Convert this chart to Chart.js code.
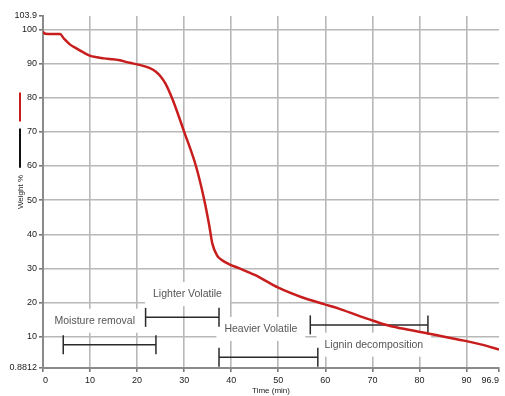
<!DOCTYPE html>
<html><head><meta charset="utf-8">
<script src="https://cdn.jsdelivr.net/npm/chart.js@4.4.1/dist/chart.umd.min.js"></script>
<style>html,body{margin:0;padding:0;background:#fff;overflow:hidden}#wrap{width:505px;height:396px;position:relative}</style>
</head><body><div id="wrap"><canvas id="c"></canvas></div>
<script>
// ---- data ----
const timeMin = [0, 0.5, 2, 3.6, 4.5, 5.7, 7, 8.5, 9.9, 11.5, 13, 14.2, 16, 18.4, 20.5, 22.6, 24, 25, 26, 27.5, 30, 32.5, 34.2, 35.3, 36, 37, 38, 39.5, 41.6, 45, 50, 55, 59.9, 63, 67, 70, 72.6, 76, 81.8, 85, 89.5, 93, 96.9];
const weightPct = [99.2, 98.7, 98.6, 98.6, 97.2, 95.6, 94.5, 93.3, 92.3, 91.8, 91.5, 91.3, 91.0, 90.2, 89.6, 88.7, 87.6, 86.2, 84.2, 79.6, 70.0, 60.0, 50.5, 42.8, 37.2, 33.8, 32.5, 31.3, 30.1, 28.1, 24.4, 21.6, 19.5, 18.2, 16.2, 14.8, 13.6, 12.5, 11.0, 10.1, 8.9, 7.8, 6.3];
const xTickValues = [0, 10, 20, 30, 40, 50, 60, 70, 80, 90, 96.9];
const yTickValues = [0.8812, 10, 20, 30, 40, 50, 60, 70, 80, 90, 100, 103.9];
const stageNames = ['Moisture removal', 'Lighter Volatile', 'Heavier Volatile', 'Lignin decomposition'];
const stageStart = [4.3, 21.8, 37.4, 56.8];
const stageEnd = [24.0, 37.4, 58.4, 81.8];
const stageLevel = [7.7, 15.7, 4.0, 13.5];
const stageLabelX = [11.0, 30.7, 46.3, 70.3];
const stageLabelY = [14.7, 22.5, 12.3, 7.7];
const xTitle = 'Time (min)';
const yTitle = 'Weight %';

const FONT = "'Liberation Sans', Arial, sans-serif";
const xMin = xTickValues[0], xMax = xTickValues[xTickValues.length - 1];
const yMin = yTickValues[0], yMax = yTickValues[yTickValues.length - 1];

const datasets = [{
  data: timeMin.map((t, i) => ({x: t, y: weightPct[i]})),
  borderColor: '#c81d1d', borderWidth: 2.5, pointRadius: 0,
  cubicInterpolationMode: 'monotone', order: 0
}];
stageNames.forEach((n, i) => {
  datasets.push({
    data: [{x: stageStart[i], y: stageLevel[i]}, {x: stageEnd[i], y: stageLevel[i]}],
    borderColor: '#2a2a2a', borderWidth: 1.5,
    pointStyle: 'line', pointRotation: 90, pointRadius: 9.5,
    pointBorderColor: '#2a2a2a', pointBorderWidth: 1.5, order: 1
  });
});

const labelPlugin = {
  id: 'stageLabels',
  beforeDatasetsDraw(chart) {
    const {ctx, scales: {x, y}} = chart;
    ctx.save();
    ctx.font = '10.5px ' + FONT;
    ctx.textAlign = 'center';
    ctx.textBaseline = 'middle';
    stageNames.forEach((n, i) => {
      const px = x.getPixelForValue(stageLabelX[i]);
      const py = y.getPixelForValue(stageLabelY[i]);
      const w = ctx.measureText(n).width;
      ctx.fillStyle = '#fff';
      ctx.fillRect(px - w / 2 - 8, py - 12, w + 16, 24);
      ctx.fillStyle = '#555';
      ctx.fillText(n, px, py);
    });
    // small legend-like marker next to the y title
    const mx = 20;
    ctx.lineWidth = 2;
    ctx.strokeStyle = '#c81d1d';
    ctx.beginPath(); ctx.moveTo(mx, y.getPixelForValue(81.5)); ctx.lineTo(mx, y.getPixelForValue(73)); ctx.stroke();
    ctx.strokeStyle = '#111';
    ctx.beginPath(); ctx.moveTo(mx, y.getPixelForValue(71)); ctx.lineTo(mx, y.getPixelForValue(59.5)); ctx.stroke();
    ctx.restore();
  }
};

const gridColor = (ctx, lo, hi) => (ctx.tick && (ctx.tick.value === lo || ctx.tick.value === hi)) ? 'rgba(0,0,0,0)' : '#b8b8b8';

new Chart(document.getElementById('c'), {
  type: 'line',
  data: {datasets},
  options: {
    responsive: true, maintainAspectRatio: false, animation: false, events: [],
    layout: {autoPadding: false, padding: {top: 16, right: 6, bottom: 0, left: 0}},
    plugins: {legend: {display: false}, tooltip: {enabled: false}},
    scales: {
      x: {
        type: 'linear', min: xMin, max: xMax,
        afterBuildTicks: s => { s.ticks = xTickValues.map(v => ({value: v})); },
        afterFit: s => { s.height = 28; },
        ticks: {font: {family: FONT, size: 9}, color: '#222', padding: 3, maxRotation: 0, autoSkip: false, align: 'inner',
          callback: v => String(v)},
        grid: {color: c => gridColor(c, xMin, xMax), lineWidth: 1.6, tickColor: '#777', tickLength: 4},
        border: {color: '#8a8a8a', width: 2},
        title: {display: true, text: xTitle, font: {family: FONT, size: 8}, color: '#222', padding: {top: 0, bottom: 0}}
      },
      y: {
        type: 'linear', min: yMin, max: yMax,
        afterBuildTicks: s => { s.ticks = yTickValues.map(v => ({value: v})); },
        afterFit: s => { s.width = 43; },
        ticks: {font: {family: FONT, size: 9}, color: '#222', padding: 2, autoSkip: false,
          callback: v => String(v)},
        grid: {color: c => gridColor(c, yMin, yMax), lineWidth: 1.6, tickColor: '#777', tickLength: 4},
        border: {color: '#8a8a8a', width: 2},
        title: {display: true, text: yTitle, font: {family: FONT, size: 8}, color: '#222', padding: {top: 16, bottom: 0}}
      }
    }
  },
  plugins: [labelPlugin]
});
</script>
</body></html>
